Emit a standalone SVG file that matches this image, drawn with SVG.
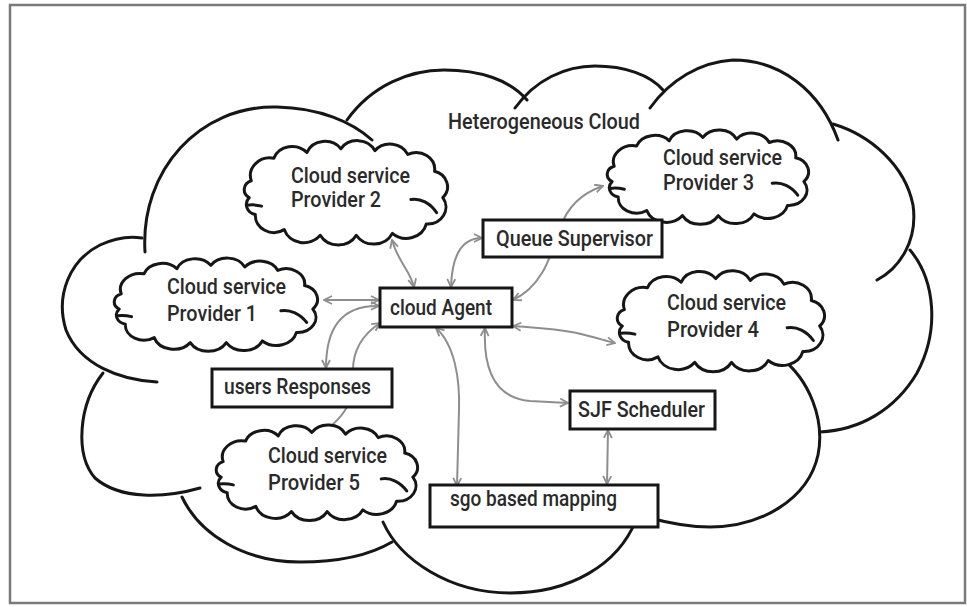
<svg xmlns="http://www.w3.org/2000/svg" xmlns:xlink="http://www.w3.org/1999/xlink" width="967" height="607" viewBox="0 0 967 607">
  <style>
    .frame { fill: #ffffff; stroke: #7a7a7a; stroke-width: 2.5; }
    .lobe { fill: none; stroke: #161616; stroke-width: 3; stroke-linecap: round; }
    .box { fill: #ffffff; stroke: #161616; stroke-width: 3; }
    .label { font-family: Roboto, "Liberation Sans", sans-serif; font-size: 22px; font-weight: 500; fill: #2a2a2a; }
    .conn { fill: none; stroke: #8e8e8e; stroke-width: 2; marker-start: url(#arr); marker-end: url(#arr); }
  </style>
  <defs>
    <marker id="arr" viewBox="0 0 10 10" refX="9" refY="5" markerWidth="10" markerHeight="10" markerUnits="userSpaceOnUse" orient="auto-start-reverse">
      <path d="M1,1 L9,5 L1,9" fill="none" stroke="#8e8e8e" stroke-width="1.8"/>
    </marker>
    <!-- small scalloped cloud in a ~200x100 unit box -->
    <g id="cloudShape" stroke="#161616" stroke-width="3" stroke-linejoin="round" stroke-linecap="round">
      <path fill="#ffffff" vector-effect="non-scaling-stroke" d="M8,38 A19,19 0 0 1 30,14 A19,19 0 0 1 62,8 A19,19 0 0 1 95,4 A19,19 0 0 1 128,6 A19,19 0 0 1 160,10 A18,18 0 0 1 186,28 A17,17 0 0 1 194,56 A18,18 0 0 1 178,84 A20,20 0 0 1 145,94 A20,20 0 0 1 110,96 A20,20 0 0 1 75,96 A20,20 0 0 1 40,90 A18,18 0 0 1 12,74 A11,11 0 0 1 6,56 A10,10 0 0 1 8,38 Z"/>
      <path fill="none" vector-effect="non-scaling-stroke" d="M4,64 Q11,63 18,65"/>
      <path fill="none" vector-effect="non-scaling-stroke" d="M163,58 C172,56 182,62 188,72"/>
    </g>
  </defs>

  <rect class="frame" x="10" y="5" width="955" height="598"/>

  <!-- outer heterogeneous cloud, drawn as separate lobes -->
  <g id="heterogeneous-cloud">
    <path class="lobe" d="M145,252 C140,170 200,105 277,107 C320,108 352,122 372,140"/>
    <path class="lobe" d="M347,120 C372,85 410,70 444,70 C480,70 510,80 527,100"/>
    <path class="lobe" d="M515,108 C535,80 565,66 595,66 C625,66 650,75 663,90"/>
    <path class="lobe" d="M650,108 C670,80 700,62 733,60 C780,60 820,90 838,140"/>
    <path class="lobe" d="M833,124 C870,135 905,165 913,205 C918,240 900,268 877,280"/>
    <path class="lobe" d="M910,250 C935,280 940,330 917,373 C895,410 860,430 820,432"/>
    <path class="lobe" d="M780,357 C810,380 825,420 818,455 C808,500 760,527 710,527 C690,527 672,524 650,518"/>
    <path class="lobe" d="M383,522 C400,560 450,593 510,593 C570,593 618,565 636,520"/>
    <path class="lobe" d="M182,497 C200,535 245,562 300,562 C340,562 370,555 392,542"/>
    <path class="lobe" d="M200,488 C165,498 120,500 95,478 C75,455 78,405 103,373"/>
    <path class="lobe" d="M157,382 C120,380 80,365 66,330 C55,295 70,260 100,245 C115,238 130,236 142,238"/>
    <text class="label" x="448" y="129" textLength="192" lengthAdjust="spacingAndGlyphs">Heterogeneous Cloud</text>
  </g>

  <!-- connectors -->
  <g id="connectors">
    <path class="conn" d="M392,240 C398,262 410,270 414,287"/>
    <path class="conn" d="M482,238 C462,238 452,255 451,287"/>
    <path class="conn" d="M513,300 C545,285 552,250 560,228 C568,205 585,192 603,186"/>
    <path class="conn" d="M324,300 L379,300"/>
    <path class="conn" d="M379,306 C340,305 326,330 326,368"/>
    <path class="conn" d="M380,323 C362,335 353,350 353,370 L350,400 C345,415 333,425 323,432"/>
    <path class="conn" d="M436,328 C455,345 460,380 459,410 L457,486"/>
    <path class="conn" d="M485,328 C483,370 495,398 530,401 L568,403"/>
    <path class="conn" d="M513,326 C535,328 560,328 585,335 C598,338 606,341 615,343"/>
    <path class="conn" d="M608,430 L607,484"/>
  </g>

  <g id="provider-2">
    <use xlink:href="#cloudShape" transform="translate(243,145) scale(1.03,0.94)"/>
    <text class="label" x="291" y="183" textLength="119" lengthAdjust="spacingAndGlyphs">Cloud service</text>
    <text class="label" x="291" y="207" textLength="90" lengthAdjust="spacingAndGlyphs">Provider 2</text>
  </g>

  <g id="provider-1">
    <use xlink:href="#cloudShape" transform="translate(113,262) scale(1.03,0.84)"/>
    <text class="label" x="167" y="294" textLength="119" lengthAdjust="spacingAndGlyphs">Cloud service</text>
    <text class="label" x="167" y="321" textLength="90" lengthAdjust="spacingAndGlyphs">Provider 1</text>
  </g>

  <g id="provider-3">
    <use xlink:href="#cloudShape" transform="translate(606,134) scale(1.02,0.85)"/>
    <text class="label" x="663" y="165" textLength="119" lengthAdjust="spacingAndGlyphs">Cloud service</text>
    <text class="label" x="663" y="190" textLength="91" lengthAdjust="spacingAndGlyphs">Provider 3</text>
  </g>

  <g id="provider-4">
    <use xlink:href="#cloudShape" transform="translate(616,275) scale(1.05,0.91)"/>
    <text class="label" x="667" y="310" textLength="119" lengthAdjust="spacingAndGlyphs">Cloud service</text>
    <text class="label" x="667" y="337" textLength="92" lengthAdjust="spacingAndGlyphs">Provider 4</text>
  </g>

  <g id="provider-5">
    <use xlink:href="#cloudShape" transform="translate(215,429) scale(1.02,0.86)"/>
    <text class="label" x="268" y="463" textLength="119" lengthAdjust="spacingAndGlyphs">Cloud service</text>
    <text class="label" x="268" y="490" textLength="92" lengthAdjust="spacingAndGlyphs">Provider 5</text>
  </g>

  <g id="queue-supervisor">
    <rect class="box" x="483" y="220" width="179" height="37"/>
    <text class="label" x="496" y="246" textLength="157" lengthAdjust="spacingAndGlyphs">Queue Supervisor</text>
  </g>

  <g id="cloud-agent">
    <rect class="box" x="380" y="288" width="132" height="39"/>
    <text class="label" x="390" y="315" textLength="102" lengthAdjust="spacingAndGlyphs">cloud Agent</text>
  </g>

  <g id="users-responses">
    <rect class="box" x="212" y="369" width="180" height="38"/>
    <text class="label" x="224" y="394" textLength="147" lengthAdjust="spacingAndGlyphs">users Responses</text>
  </g>

  <g id="sjf-scheduler">
    <rect class="box" x="570" y="391" width="145" height="38"/>
    <text class="label" x="578" y="417" textLength="127" lengthAdjust="spacingAndGlyphs">SJF Scheduler</text>
  </g>

  <g id="sgo-mapping">
    <rect class="box" x="430" y="485" width="228" height="42"/>
    <text class="label" x="450" y="506" textLength="167" lengthAdjust="spacingAndGlyphs">sgo based mapping</text>
  </g>
</svg>
